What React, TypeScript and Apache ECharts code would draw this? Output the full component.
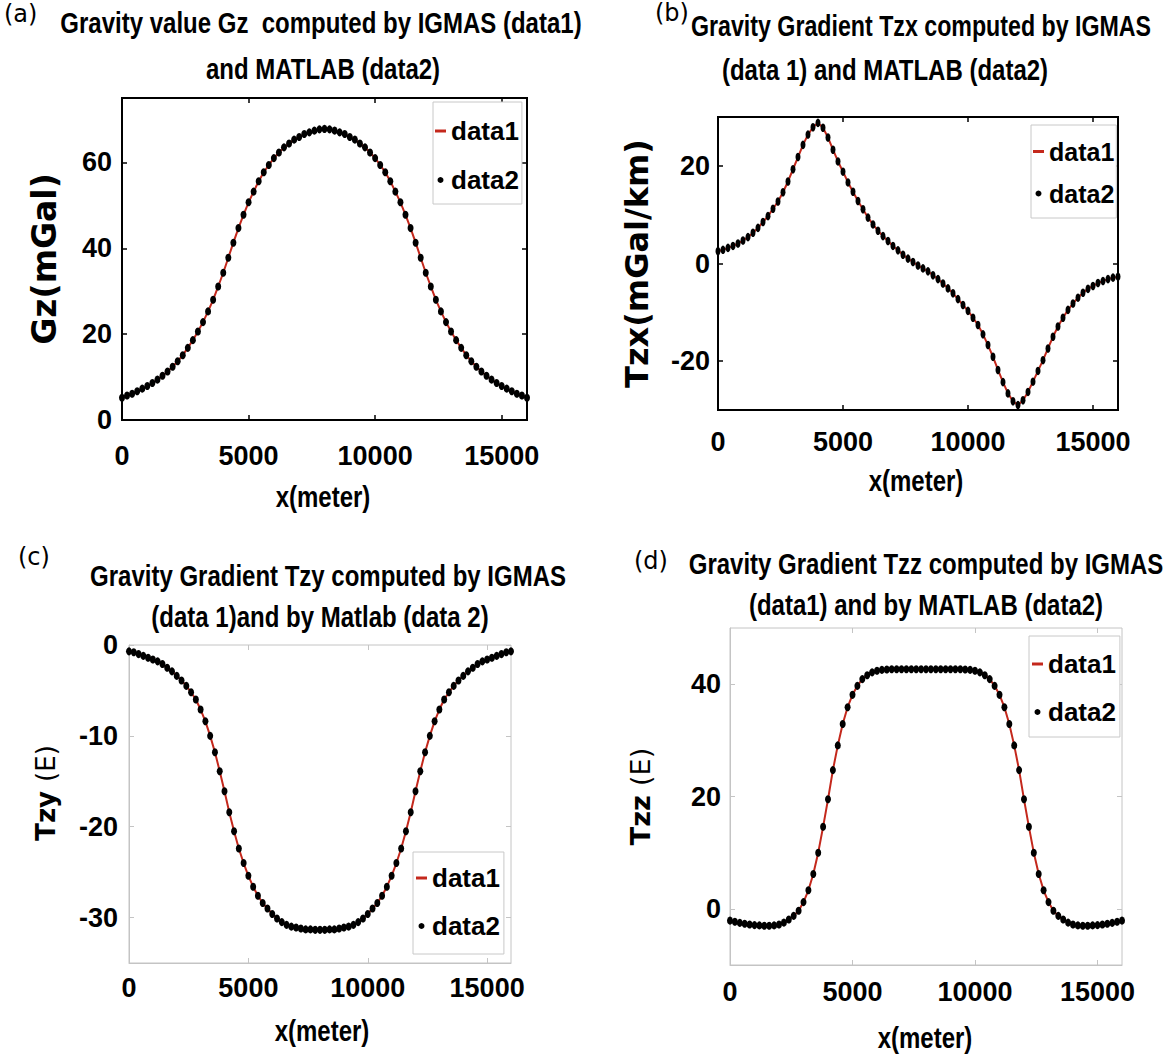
import React, { useEffect, useRef } from "react";
import * as echarts from "echarts";

// ---------- data ----------
const X_M = [
  0, 200, 400, 600, 800, 1000, 1200, 1400, 1600, 1800, 2000, 2200, 2400, 2600, 2800, 3000, 3200, 3400, 3600, 3800,
  4000, 4200, 4400, 4600, 4800, 5000, 5200, 5400, 5600, 5800, 6000, 6200, 6400, 6600, 6800, 7000, 7200, 7400, 7600, 7800,
  8000, 8200, 8400, 8600, 8800, 9000, 9200, 9400, 9600, 9800, 10000, 10200, 10400, 10600, 10800, 11000, 11200, 11400, 11600, 11800,
  12000, 12200, 12400, 12600, 12800, 13000, 13200, 13400, 13600, 13800, 14000, 14200, 14400, 14600, 14800, 15000, 15200, 15400, 15600, 15800,
  16000,
];

const GZ = [
  5.2, 5.7, 6.1, 6.7, 7.3, 7.9, 8.6, 9.4, 10.3, 11.3, 12.4, 13.7, 15.1, 16.8, 18.6, 20.6, 22.8, 25.3, 28.0, 31.1,
  34.3, 37.8, 41.3, 44.7, 47.8, 50.7, 53.2, 55.6, 57.7, 59.4, 61.0, 62.3, 63.5, 64.4, 65.3, 65.9, 66.6, 67.0, 67.4, 67.7,
  67.8, 67.7, 67.4, 67.0, 66.6, 65.9, 65.3, 64.4, 63.5, 62.3, 61.0, 59.4, 57.7, 55.6, 53.2, 50.7, 47.8, 44.7, 41.3, 37.8,
  34.3, 31.1, 28.0, 25.3, 22.8, 20.6, 18.6, 16.8, 15.1, 13.7, 12.4, 11.3, 10.3, 9.4, 8.6, 7.9, 7.3, 6.7, 6.1, 5.7,
  5.2,
];

const TZX = [
  2.5, 2.8, 3.2, 3.6, 4.1, 4.7, 5.4, 6.3, 7.3, 8.5, 9.7, 11.2, 12.7, 14.6, 16.8, 19.3, 21.8, 24.3, 26.4, 27.9,
  28.8, 27.8, 25.8, 23.3, 20.9, 18.8, 16.6, 14.7, 12.8, 11.1, 9.4, 8.0, 6.7, 5.6, 4.6, 3.6, 2.7, 1.8, 1.0, 0.3,
  -0.4, -1.0, -1.6, -2.4, -3.2, -4.1, -5.1, -6.1, -7.3, -8.5, -9.7, -11.1, -12.6, -14.5, -16.7, -19.1, -21.8, -24.3, -26.6, -28.2,
  -29.0, -28.0, -26.3, -24.2, -22.0, -19.8, -17.4, -15.0, -12.9, -11.1, -9.5, -8.2, -7.0, -6.0, -5.2, -4.6, -4.0, -3.6, -3.2, -2.9,
  -2.7,
];

const TZY = [
  -0.7, -0.8, -1.0, -1.2, -1.4, -1.6, -1.8, -2.1, -2.5, -2.9, -3.4, -3.9, -4.5, -5.2, -6.0, -7.1, -8.4, -10.0, -11.8, -13.9,
  -16.1, -18.4, -20.5, -22.4, -24.0, -25.4, -26.6, -27.6, -28.4, -29.0, -29.6, -30.1, -30.5, -30.8, -31.0, -31.1, -31.2, -31.3, -31.3, -31.35,
  -31.35, -31.35, -31.3, -31.3, -31.2, -31.1, -31.0, -30.8, -30.5, -30.1, -29.6, -29.0, -28.4, -27.6, -26.6, -25.4, -24.0, -22.4, -20.5, -18.4,
  -16.1, -13.9, -11.8, -10.0, -8.4, -7.1, -6.0, -5.2, -4.5, -3.9, -3.4, -2.9, -2.5, -2.1, -1.8, -1.6, -1.4, -1.2, -1.0, -0.8,
  -0.7,
];

const TZZ = [
  -2.1, -2.3, -2.5, -2.65, -2.8, -2.9, -2.95, -3.0, -3.0, -2.95, -2.8, -2.45, -1.9, -1.25, -0.35, 1.2, 3.3, 6.2, 10.0, 14.6,
  19.5, 24.7, 29.1, 32.9, 35.9, 38.1, 39.7, 40.9, 41.6, 42.1, 42.4, 42.55, 42.6, 42.65, 42.65, 42.65, 42.65, 42.65, 42.65, 42.65,
  42.65, 42.65, 42.65, 42.65, 42.65, 42.65, 42.65, 42.65, 42.6, 42.55, 42.4, 42.1, 41.6, 40.9, 39.7, 38.1, 35.9, 32.9, 29.1, 24.7,
  19.5, 14.6, 10.0, 6.2, 3.3, 1.2, -0.35, -1.25, -1.9, -2.45, -2.8, -2.95, -3.0, -3.0, -2.95, -2.9, -2.8, -2.65, -2.5, -2.3,
  -2.1,
];

const X_TICKS = [0, 5000, 10000, 15000];
const GZ_TICKS = [0, 20, 40, 60];
const TZX_TICKS = [-20, 0, 20];
const TZY_TICKS = [-30, -20, -10, 0];
const TZZ_TICKS = [0, 20, 40];
const LEGEND_NAMES = ["data1", "data2"];
const X_NAME = "x(meter)";

// ---------- styling ----------
const ARIAL = "'Liberation Sans', Arial, sans-serif";
const WIDE = "'DejaVu Sans', Verdana, sans-serif";
const RED = "#c4281c";
const SQUEEZE = 0.8;

const PANELS = [
  {
    values: GZ, yMin: 0, yMax: 75, yTicks: GZ_TICKS, yName: "Gz(mGal)", yNameSize: 33, yNameGap: 61, yNamePad: [0, 0, 0, 0],
    grid: { left: 122, top: 98, width: 405, height: 322 }, dark: true,
    xLabelMargin: 22, yLabelMargin: 10, sym: [6, 8],
    xName: { x: 323, y: 497 },
    legend: { left: 433, top: 102, padding: [16, 3, 11, 2], itemGap: 23, fontSize: 26 },
    tag: { text: "(a)", x: 4, y: 14 },
    titles: [
      { text: "Gravity value Gz  computed by IGMAS (data1)", x: 321, y: 23, size: 30 },
      { text: "and MATLAB (data2)", x: 323, y: 69, size: 30 },
    ],
  },
  {
    values: TZX, yMin: -30, yMax: 30, yTicks: TZX_TICKS, yName: "Tzx(mGal/km)", yNameSize: 32, yNameGap: 65, yNamePad: [0, 0, 0, 0],
    grid: { left: 718, top: 117, width: 400, height: 293 }, dark: true,
    xLabelMargin: 18, yLabelMargin: 8, sym: [5, 8.5],
    xName: { x: 916, y: 481 },
    legend: { left: 1031, top: 125, padding: [14, 2, 12, 2], itemGap: 17, fontSize: 25 },
    tag: { text: "(b)", x: 655, y: 13 },
    titles: [
      { text: "Gravity Gradient Tzx computed by IGMAS", x: 921, y: 26, size: 29 },
      { text: "(data 1) and MATLAB (data2)", x: 885, y: 70, size: 30 },
    ],
  },
  {
    values: TZY, yMin: -35, yMax: 0, yTicks: TZY_TICKS, yName: "{b|Tzy} {n|(E)}", yNameSize: 26, yNameGap: 70, yNamePad: [0, 0, 0, 22],
    grid: { left: 129, top: 645, width: 382, height: 318 }, dark: false,
    xLabelMargin: 11, yLabelMargin: 11, sym: [6, 8],
    xName: { x: 322, y: 1031 },
    legend: { left: 413, top: 852, padding: [13, 4, 15, 3], itemGap: 22, fontSize: 26 },
    tag: { text: "(c)", x: 18, y: 557 },
    titles: [
      { text: "Gravity Gradient Tzy computed by IGMAS", x: 328, y: 576, size: 30 },
      { text: "(data 1)and by Matlab (data 2)", x: 320, y: 617, size: 30 },
    ],
  },
  {
    values: TZZ, yMin: -10, yMax: 50, yTicks: TZZ_TICKS, yName: "{b|Tzz} {n|(E)}", yNameSize: 27, yNameGap: 76, yNamePad: [0, 0, 0, 0],
    grid: { left: 730, top: 628, width: 392, height: 337 }, dark: false,
    xLabelMargin: 13, yLabelMargin: 9, sym: [6, 8],
    xName: { x: 925, y: 1038 },
    legend: { left: 1029, top: 636, padding: [15, 4, 12, 3], itemGap: 22, fontSize: 26 },
    tag: { text: "(d)", x: 634, y: 561 },
    titles: [
      { text: "Gravity Gradient Tzz computed by IGMAS", x: 926, y: 564, size: 30 },
      { text: "(data1) and by MATLAB (data2)", x: 926, y: 605, size: 30 },
    ],
  },
];

function squeezedText(text: string, x: number, y: number, size: number) {
  return {
    type: "text", x, y, scaleX: SQUEEZE, scaleY: 1,
    style: { text, fontFamily: ARIAL, fontSize: size, fontWeight: "bold", fill: "#000", align: "center", verticalAlign: "middle" },
  };
}

function buildOption() {
  const grid: any[] = [];
  const xAxis: any[] = [];
  const yAxis: any[] = [];
  const series: any[] = [];
  const legend: any[] = [];
  const graphic: any[] = [];

  PANELS.forEach((p, i) => {
    const edge = p.dark ? "#000" : "#c4c4c4";
    const edgeW = p.dark ? 2 : 1;
    grid.push({ ...p.grid, show: true, borderColor: edge, borderWidth: edgeW, backgroundColor: "#fff", containLabel: false });

    const labelStyle = { fontFamily: ARIAL, fontWeight: "bold", fontSize: 27, color: "#000", formatter: (v: number) => String(v) };
    const tick = { show: true, inside: true, length: 5, lineStyle: { color: edge, width: p.dark ? 1.5 : 1 } };

    xAxis.push({
      type: "value", gridIndex: i, min: 0, max: 16000, position: "bottom",
      axisLine: { show: true, onZero: false, lineStyle: { color: edge, width: edgeW } },
      axisTick: { ...tick, customValues: X_TICKS },
      axisLabel: { ...labelStyle, margin: p.xLabelMargin, customValues: X_TICKS },
      splitLine: { show: false },
    });
    xAxis.push({
      type: "value", gridIndex: i, min: 0, max: 16000, position: "top",
      axisLine: { show: false, onZero: false }, axisTick: { ...tick, customValues: X_TICKS },
      axisLabel: { show: false }, splitLine: { show: false },
    });
    const nameStyle = { fontFamily: WIDE, fontWeight: "bold", fontSize: p.yNameSize, color: "#000" };
    yAxis.push({
      type: "value", gridIndex: i, min: p.yMin, max: p.yMax, position: "left",
      axisLine: { show: true, onZero: false, lineStyle: { color: edge, width: edgeW } },
      axisTick: { ...tick, customValues: p.yTicks },
      axisLabel: { ...labelStyle, margin: p.yLabelMargin, customValues: p.yTicks },
      splitLine: { show: false },
      name: p.yName, nameLocation: "middle", nameGap: p.yNameGap,
      nameTextStyle: {
        ...nameStyle, padding: p.yNamePad,
        rich: { b: { ...nameStyle }, n: { ...nameStyle, fontWeight: "normal" } },
      },
    });
    yAxis.push({
      type: "value", gridIndex: i, min: p.yMin, max: p.yMax, position: "right",
      axisLine: { show: false, onZero: false }, axisTick: { ...tick, customValues: p.yTicks },
      axisLabel: { show: false }, splitLine: { show: false },
    });

    const pts = X_M.map((x, k) => [x, p.values[k]]);
    series.push({
      name: "data1", type: "line", xAxisIndex: 2 * i, yAxisIndex: 2 * i, data: pts,
      symbol: "none", showSymbol: false, smooth: false,
      lineStyle: { color: RED, width: 2 }, itemStyle: { color: RED }, z: 3,
    });
    series.push({
      name: "data2", type: "scatter", xAxisIndex: 2 * i, yAxisIndex: 2 * i, data: pts,
      symbol: "circle", symbolSize: p.sym, itemStyle: { color: "#000", opacity: 1 }, z: 4,
    });

    legend.push({
      show: true, orient: "vertical", left: p.legend.left, top: p.legend.top,
      padding: p.legend.padding, itemGap: p.legend.itemGap, itemWidth: 11, itemHeight: 6,
      borderColor: "#c8c8c8", borderWidth: 1, backgroundColor: "#fff", selectedMode: false,
      textStyle: { fontFamily: ARIAL, fontWeight: "bold", fontSize: p.legend.fontSize, color: "#000" },
      data: [
        { name: LEGEND_NAMES[0], icon: "path://M0,0 L11,0 L11,3 L0,3 Z", itemStyle: { color: RED } },
        { name: LEGEND_NAMES[1], icon: "circle", itemStyle: { color: "#000" } },
      ],
    });

    graphic.push({
      type: "text", x: p.tag.x, y: p.tag.y,
      style: { text: p.tag.text, fontFamily: WIDE, fontSize: 24, fontWeight: "normal", fill: "#000", align: "left", verticalAlign: "middle" },
    });
    p.titles.forEach((t) => graphic.push(squeezedText(t.text, t.x, t.y, t.size)));
    graphic.push(squeezedText(X_NAME, p.xName.x, p.xName.y, 30));
  });

  return { animation: false, backgroundColor: "#fff", grid, xAxis, yAxis, series, legend, graphic };
}

export default function App() {
  const ref = useRef<HTMLDivElement>(null);
  useEffect(() => {
    if (!ref.current) return;
    const chart = echarts.init(ref.current, undefined, { renderer: "svg" });
    chart.setOption(buildOption() as any);
    return () => chart.dispose();
  }, []);
  return (
    <div
      ref={ref}
      style={{ position: "absolute", left: 0, top: 0, width: 1165, height: 1056, background: "#fff" }}
    />
  );
}
